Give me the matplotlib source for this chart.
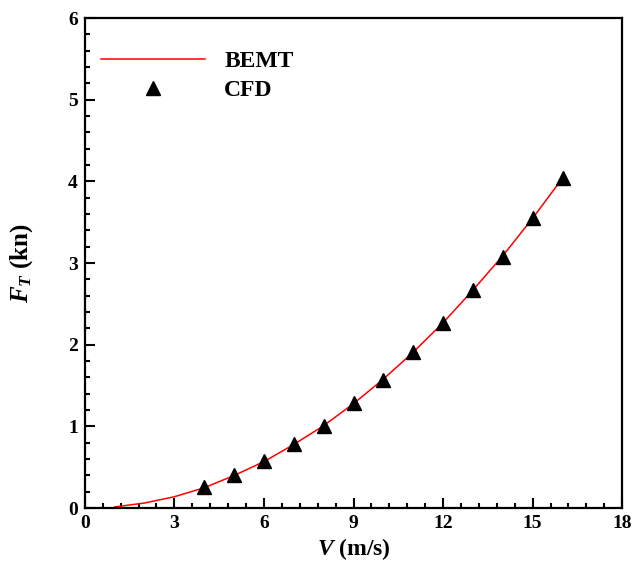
import matplotlib
matplotlib.use("Agg")
import matplotlib.pyplot as plt
from matplotlib.ticker import MultipleLocator

# data
bemt_v = [1, 2, 3, 4, 5, 6, 7, 8, 9, 10, 11, 12, 13, 14, 15, 16]
bemt_ft = [0.015, 0.063, 0.14, 0.25, 0.40, 0.57, 0.78, 1.01, 1.28, 1.58, 1.91, 2.27, 2.67, 3.09, 3.55, 4.04]
cfd_v = [4, 5, 6, 7, 8, 9, 10, 11, 12, 13, 14, 15, 16]
cfd_ft = [0.26, 0.40, 0.58, 0.79, 1.01, 1.29, 1.57, 1.91, 2.27, 2.67, 3.08, 3.55, 4.04]

plt.rcParams['font.family'] = ['Liberation Serif', 'DejaVu Serif']
plt.rcParams['font.weight'] = 'bold'
plt.rcParams['mathtext.fontset'] = 'custom'
plt.rcParams['mathtext.rm'] = 'Liberation Serif:bold'
plt.rcParams['mathtext.it'] = 'Liberation Serif:italic:bold'
plt.rcParams['mathtext.bf'] = 'Liberation Serif:bold'

fig = plt.figure(figsize=(6.33, 5.64), dpi=100)
ax = fig.add_axes([0.134, 0.099, 0.849, 0.869])

ax.plot(bemt_v, bemt_ft, color='red', lw=1.1, label='BEMT')
ax.plot(cfd_v, cfd_ft, ls='none', marker='^', ms=10, color='black', label='CFD')

ax.set_xlim(0, 18)
ax.set_ylim(0, 6)
ax.xaxis.set_major_locator(MultipleLocator(3))
ax.xaxis.set_minor_locator(MultipleLocator(0.6))
ax.yaxis.set_major_locator(MultipleLocator(1))
ax.yaxis.set_minor_locator(MultipleLocator(0.2))
ax.tick_params(which='both', direction='in', width=1.5, labelsize=14, pad=5)
ax.tick_params(which='major', length=7)
ax.tick_params(which='minor', length=3.5)
for s in ax.spines.values():
    s.set_linewidth(1.6)

ax.set_xlabel(r'$V$ (m/s)', fontsize=17, fontweight='bold', labelpad=3)
ax.set_ylabel(r'$F_T$ (kn)', fontsize=18, fontweight='bold', labelpad=24)

ax.legend(loc='upper left', bbox_to_anchor=(0.0, 0.967), frameon=False, fontsize=17,
          handlelength=4.4, handletextpad=0.8, labelspacing=0.3, borderaxespad=0.3)

fig.savefig('out.png', dpi=100)
